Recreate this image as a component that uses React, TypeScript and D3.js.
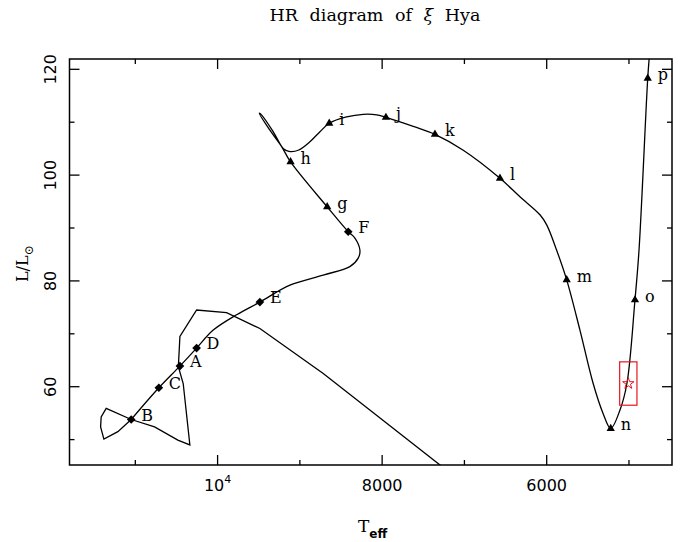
import React, { useEffect, useRef } from 'react';
import * as d3 from 'd3';

// pre-main-sequence contraction, ends on the ZAMS at point B  [Teff, L]
const preMsTrack: [number, number][] = [
  [7067, 42.4], [8716, 62.5], [9486, 71.0], [9891, 74.0], [10255, 74.5],
  [10458, 69.5], [10477, 63.8], [10418, 60.6], [10337, 49.0], [10483, 49.9],
  [10766, 52.4], [11050, 53.8], [11354, 55.9], [11415, 54.3], [11422, 52.4],
  [11382, 50.1], [11212, 51.5], [11050, 53.8],
];

// main sequence, hook, Hertzsprung gap and red giant branch  [Teff, L]
const mainTrack: [number, number][] = [
  [11050, 53.8], [10714, 59.8], [10458, 63.9], [10255, 67.3], [10053, 70.7],
  [9769, 73.6], [9486, 76.0], [9121, 79.2], [8716, 81.1], [8392, 82.7],
  [8291, 84.3], [8270, 85.8], [8331, 88.1], [8412, 89.3], [8668, 94.0],
  [9113, 102.5], [9222, 105.4], [9364, 108.5], [9494, 111.7], [9461, 111.3],
  [9316, 108.0], [9200, 105.0], [9133, 104.5], [9020, 104.7], [8878, 106.3],
  [8756, 108.2], [8643, 109.8], [8432, 111.0], [8230, 111.5], [8067, 111.4],
  [7954, 110.9], [7622, 109.2], [7358, 107.7], [7014, 104.7], [6568, 99.4],
  [6325, 95.9], [6082, 92.5], [6000, 90.6], [5879, 85.8], [5757, 80.2],
  [5596, 70.7], [5437, 60.7], [5316, 55.0], [5222, 52.1], [5109, 55.6],
  [5024, 60.7], [4927, 76.4], [4878, 85.8], [4772, 118.3], [4751, 122.7],
];

// labelled points on the track
const diamondNames = ['B', 'C', 'A', 'D', 'E', 'F'];
const diamondTeff = [11050, 10714, 10458, 10255, 9486, 8412];
const diamondL = [53.8, 59.8, 63.9, 67.3, 76.0, 89.3];

const triangleNames = ['g', 'h', 'i', 'j', 'k', 'l', 'm', 'n', 'o', 'p'];
const triangleTeff = [8668, 9113, 8643, 7954, 7358, 6568, 5757, 5222, 4927, 4772];
const triangleL = [94.0, 102.5, 109.8, 110.9, 107.7, 99.4, 80.2, 52.1, 76.4, 118.3];

// observed position of xi Hya with error box
const obsTeff = 5008;
const obsTeffErr = 105;
const obsL = 60.6;
const obsLErr = 4.1;

const xMajorTicks = [10000, 8000, 6000];
const xMinorTicks = [11000, 9000, 7000, 5000];
const yMajorTicks = [60, 80, 100, 120];
const yMinorTicks = [50, 70, 90, 110];

export default function App() {
  const svgRef = useRef<SVGSVGElement>(null);

  useEffect(() => {
    if (!svgRef.current) return;
    const svg = d3.select(svgRef.current);
    svg.selectAll('*').remove();

    const left = 69.5, right = 672, top = 59, bottom = 465;
    const x = d3.scaleLinear().domain([11800, 4477]).range([left, right]);
    const y = d3.scaleLinear().domain([45.2, 121.95]).range([bottom, top]);

    const serif = '"DejaVu Serif", serif';
    const sans = '"DejaVu Sans", sans-serif';

    svg.append('defs').append('clipPath').attr('id', 'plotclip')
      .append('rect')
      .attr('x', left).attr('y', top)
      .attr('width', right - left).attr('height', bottom - top);

    // title
    const title = svg.append('text')
      .attr('x', 375).attr('y', 21)
      .attr('text-anchor', 'middle')
      .style('font-family', serif).style('font-size', '17.5px')
      .style('word-spacing', '6px');
    title.append('tspan').text('HR diagram of ');
    title.append('tspan').style('font-style', 'italic').text('ξ');
    title.append('tspan').text(' Hya');

    // frame
    svg.append('rect')
      .attr('x', left).attr('y', top)
      .attr('width', right - left).attr('height', bottom - top)
      .style('fill', 'none').style('stroke', '#000').style('stroke-width', 1.5);

    const tickG = svg.append('g').style('stroke', '#000').style('stroke-width', 1.3);
    const xTick = (t: number, len: number) => {
      tickG.append('line').attr('x1', x(t)).attr('x2', x(t)).attr('y1', bottom).attr('y2', bottom - len);
      tickG.append('line').attr('x1', x(t)).attr('x2', x(t)).attr('y1', top).attr('y2', top + len);
    };
    const yTick = (t: number, len: number) => {
      tickG.append('line').attr('y1', y(t)).attr('y2', y(t)).attr('x1', left).attr('x2', left + len);
      tickG.append('line').attr('y1', y(t)).attr('y2', y(t)).attr('x1', right).attr('x2', right - len);
    };
    xMajorTicks.forEach(t => xTick(t, 10));
    xMinorTicks.forEach(t => xTick(t, 5));
    yMajorTicks.forEach(t => yTick(t, 10));
    yMinorTicks.forEach(t => yTick(t, 5));

    // x tick labels
    xMajorTicks.forEach(t => {
      const txt = svg.append('text')
        .attr('x', x(t)).attr('y', 491)
        .attr('text-anchor', 'middle')
        .style('font-family', sans).style('font-size', '16px');
      if (t === 10000) {
        txt.append('tspan').text('10');
        txt.append('tspan').attr('dy', -8).style('font-size', '11px').text('4');
      } else {
        txt.text(String(t));
      }
    });

    // y tick labels, rotated
    yMajorTicks.forEach(t => {
      svg.append('text')
        .attr('transform', `translate(56,${y(t)}) rotate(-90)`)
        .attr('text-anchor', 'middle')
        .style('font-family', sans).style('font-size', '16px')
        .text(String(t));
    });

    // axis titles
    const xl = svg.append('text')
      .attr('x', 358).attr('y', 532)
      .style('font-family', serif).style('font-size', '17px');
    xl.append('tspan').text('T');
    xl.append('tspan').attr('dy', 6).style('font-family', sans)
      .style('font-weight', 'bold').style('font-size', '12px').text('eff');

    const yl = svg.append('text')
      .attr('transform', 'translate(28,282) rotate(-90)')
      .style('font-family', serif).style('font-size', '16px');
    yl.append('tspan').text('L/L');
    yl.append('tspan').attr('dy', 5).style('font-size', '12px').text('⊙');

    // tracks
    const plot = svg.append('g').attr('clip-path', 'url(#plotclip)');
    const linear = d3.line<[number, number]>()
      .x(d => x(d[0])).y(d => y(d[1]));
    const smooth = d3.line<[number, number]>()
      .x(d => x(d[0])).y(d => y(d[1]))
      .curve(d3.curveCatmullRom.alpha(0.5));

    plot.append('path').attr('d', linear(preMsTrack))
      .style('fill', 'none').style('stroke', '#000').style('stroke-width', 1.3);
    plot.append('path').attr('d', smooth(mainTrack))
      .style('fill', 'none').style('stroke', '#000').style('stroke-width', 1.3);

    const diamond = d3.symbol().type(d3.symbolDiamond2).size(48);
    const triangle = d3.symbol().type(d3.symbolTriangle).size(30);
    const labelStyle = (t: d3.Selection<SVGTextElement, unknown, null, undefined>) =>
      t.style('font-family', serif).style('font-size', '16px');

    diamondNames.forEach((name, i) => {
      const px = x(diamondTeff[i]), py = y(diamondL[i]);
      svg.append('path').attr('d', diamond()).attr('transform', `translate(${px},${py})`)
        .style('fill', '#000');
      labelStyle(svg.append('text').attr('x', px + 10).attr('y', py + 1).text(name));
    });

    triangleNames.forEach((name, i) => {
      const px = x(triangleTeff[i]), py = y(triangleL[i]);
      svg.append('path').attr('d', triangle()).attr('transform', `translate(${px},${py})`)
        .style('fill', '#000');
      labelStyle(svg.append('text').attr('x', px + 10).attr('y', py + 2).text(name));
    });

    // observation: error box and star
    svg.append('rect')
      .attr('x', x(obsTeff + obsTeffErr))
      .attr('y', y(obsL + obsLErr))
      .attr('width', x(obsTeff - obsTeffErr) - x(obsTeff + obsTeffErr))
      .attr('height', y(obsL - obsLErr) - y(obsL + obsLErr))
      .style('fill', 'none').style('stroke', '#e8141e').style('stroke-width', 1.2);
    svg.append('path')
      .attr('d', d3.symbol().type(d3.symbolStar).size(40)())
      .attr('transform', `translate(${x(obsTeff)},${y(obsL)})`)
      .style('fill', 'none').style('stroke', '#e8141e').style('stroke-width', 1);
  }, []);

  return (
    <svg
      ref={svgRef}
      width={686}
      height={542}
      style={{ position: 'absolute', left: 0, top: 0, background: '#fff' }}
    />
  );
}
